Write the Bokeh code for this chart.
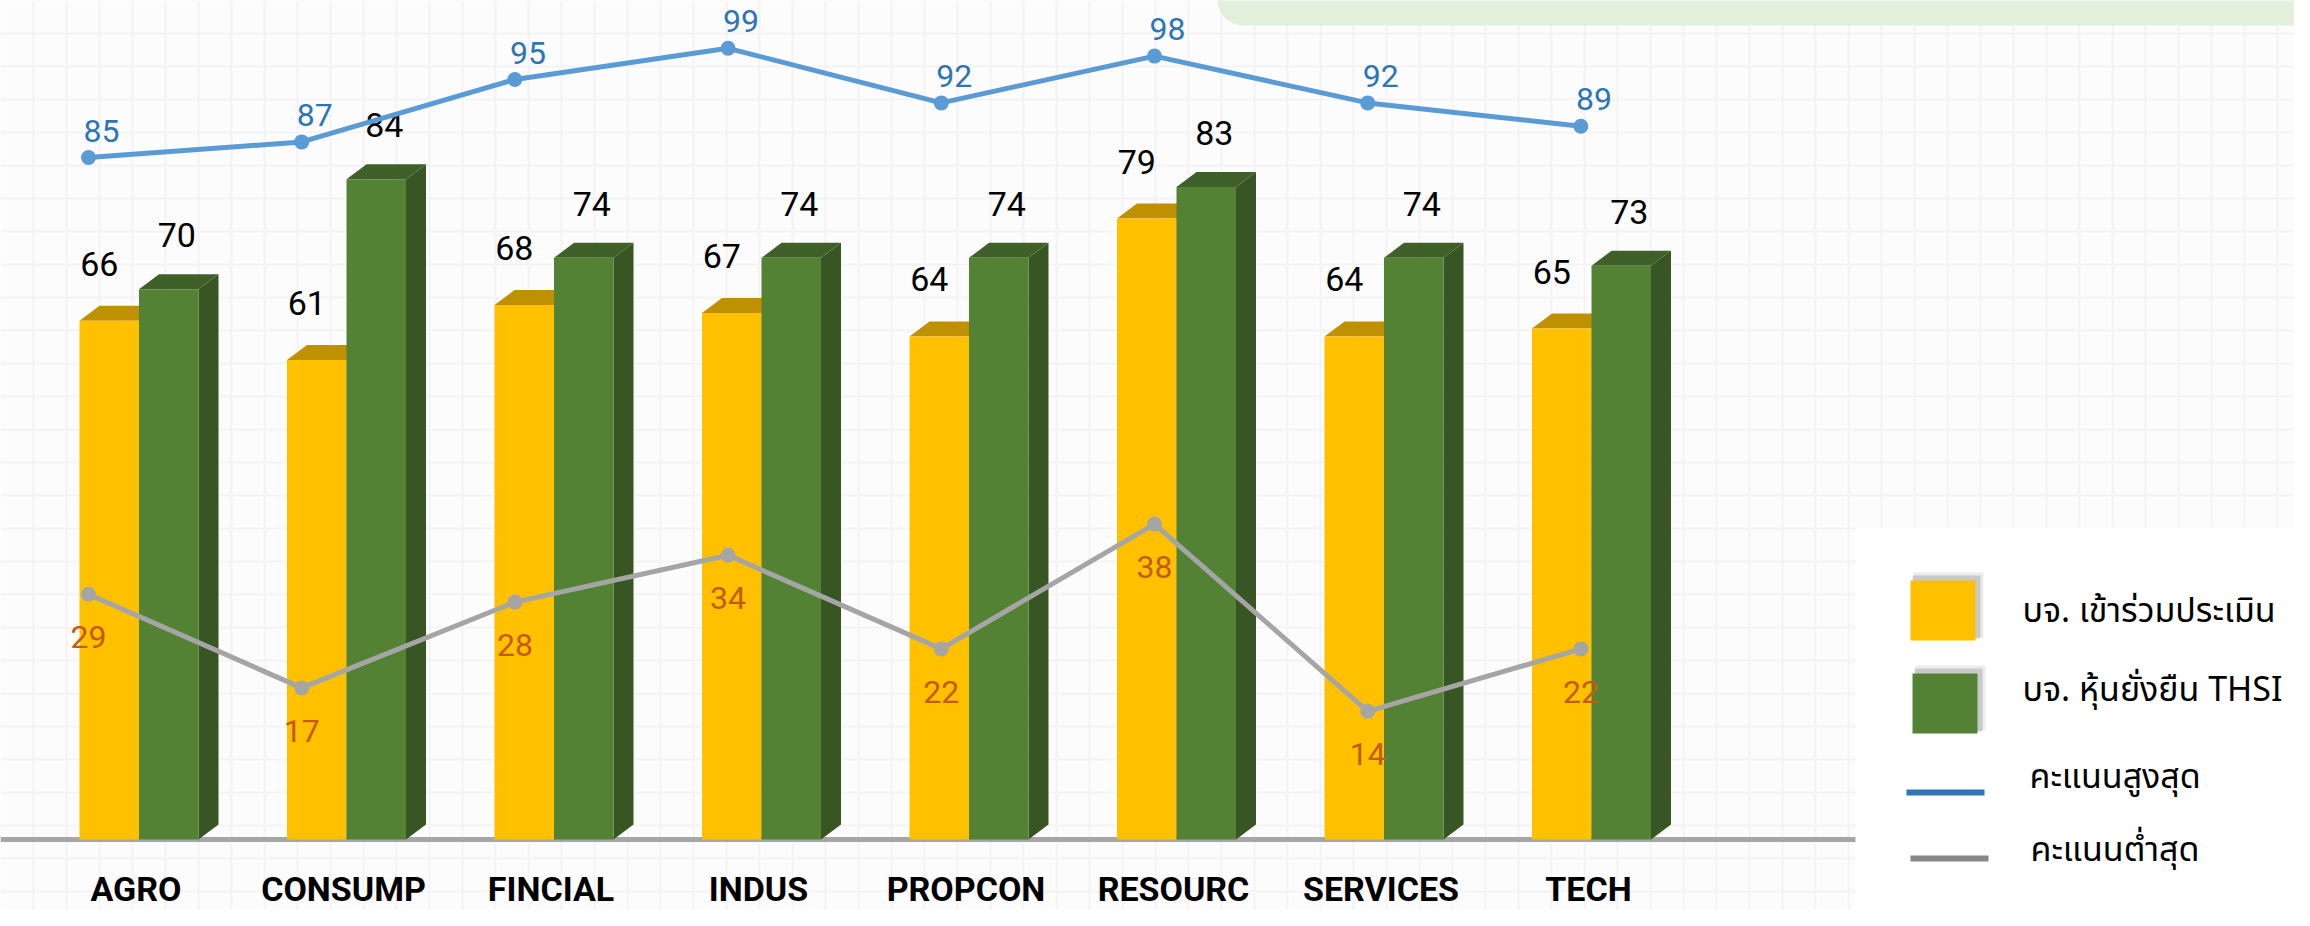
import numpy as np
from bokeh.plotting import figure
from bokeh.models import Range1d, Grid, SingleIntervalTicker, BoxAnnotation
from bokeh.core.properties import value
from bokeh.embed import file_html
from bokeh.resources import INLINE

# ---------------- data ----------------
categories = ["AGRO", "CONSUMP", "FINCIAL", "INDUS", "PROPCON", "RESOURC", "SERVICES", "TECH"]
participants = [66, 61, 68, 67, 64, 79, 64, 65]      # บจ. เข้าร่วมประเมิน
thsi = [70, 84, 74, 74, 74, 83, 74, 73]              # บจ. หุ้นยั่งยืน THSI
max_score = [85, 87, 95, 99, 92, 98, 92, 89]         # คะแนนสูงสุด
min_score = [29, 17, 28, 34, 22, 38, 14, 22]         # คะแนนต่ำสุด
legend_labels = ["บจ. เข้าร่วมประเมิน", "บจ. หุ้นยั่งยืน THSI", "คะแนนสูงสุด", "คะแนนต่ำสุด"]

# ---------------- layout / style ----------------
W, H = 2294, 910
M = 8  # page margin
BAR_X0, BAR_DX, BAR_Y0, BAR_DY = 146.5, 207.5, 847.0, 7.86
LINE_X0, LINE_DX, LINE_Y0, LINE_DY = 96.0, 213.2, 828.0, 7.8

YEL, YEL_TOP = "#FFC000", "#BF9000"
GRN, GRN_TOP, GRN_SIDE = "#548235", "#3F6129", "#375623"
BLUE, BLUE_TXT = "#5B9BD5", "#2E75B6"
GRAY, GRAY_TXT = "#A5A5A5", "#C55A11"
NUM_FONT = value("Roboto")
THAI_FONT = value("Noto Sans Thai")

p = figure(width=W, height=H,
           x_range=Range1d((M - BAR_X0) / BAR_DX, (M + W - BAR_X0) / BAR_DX),
           y_range=Range1d((BAR_Y0 - (M + H)) / BAR_DY, (BAR_Y0 - M) / BAR_DY),
           output_backend="svg", toolbar_location=None, min_border=0,
           x_axis_location=None, y_axis_location=None,
           background_fill_color="#FCFCFC", border_fill_color="#FCFCFC")
p.outline_line_color = None
p.grid.visible = False

p.extra_x_ranges = {
    "line": Range1d((M - LINE_X0) / LINE_DX, (M + W - LINE_X0) / LINE_DX),
    "px": Range1d(0, W),
}
p.extra_y_ranges = {
    "line": Range1d((LINE_Y0 - (M + H)) / LINE_DY, (LINE_Y0 - M) / LINE_DY),
    "py": Range1d(H, 0),
}

# faint graph-paper background
for dim in (0, 1):
    g = Grid(dimension=dim, ticker=SingleIntervalTicker(interval=33),
             grid_line_color="#F3F3F3", grid_line_width=2, level="underlay")
    if dim == 0:
        g.x_range_name = "px"
    else:
        g.y_range_name = "py"
    p.add_layout(g)

# top rounded green box (title area, mostly cut off)
p.add_layout(BoxAnnotation(left=1225 - M, right=W + 60, top=-80, bottom=33 - M,
                           x_range_name="px", y_range_name="py",
                           fill_color="#E2EFDA", fill_alpha=1.0, line_color=None,
                           border_radius=26, level="underlay"))

# baseline
p.hspan(y=[0], line_color="#A6A6A6", line_width=5)

# ---------------- bars with pseudo-3D depth ----------------
idx = np.arange(len(categories), dtype=float)
bw = 59.5 / BAR_DX
ddx = 20.0 / BAR_DX
ddy = 15.0 / BAR_DY


def bar3d(left, vals, front, top, side):
    vals = np.asarray(vals, dtype=float)
    right = left + bw
    side_xs = [[r, r + ddx, r + ddx, r] for r in right]
    side_ys = [[0, ddy, v + ddy, v] for v in vals]
    top_xs = [[l, l + ddx, r + ddx, r] for l, r in zip(left, right)]
    top_ys = [[v, v + ddy, v + ddy, v] for v in vals]
    p.patches(side_xs, side_ys, fill_color=side, line_color=None)
    p.patches(top_xs, top_ys, fill_color=top, line_color=None)
    p.quad(left=left, right=right, bottom=0, top=vals, fill_color=front, line_color=None)


bar3d(idx - bw, participants, YEL, YEL_TOP, "#A67C00")
bar3d(idx, thsi, GRN, GRN_TOP, GRN_SIDE)

# bar value labels
p.text(x=idx - bw / 2, y=participants, text=[str(v) for v in participants],
       x_offset=-10, y_offset=-57, text_align="center", text_baseline="middle",
       text_font=NUM_FONT, text_font_size="34px", text_color="black")
p.text(x=idx + bw / 2, y=thsi, text=[str(v) for v in thsi],
       x_offset=8, y_offset=-54, text_align="center", text_baseline="middle",
       text_font=NUM_FONT, text_font_size="34px", text_color="black")

# category labels
p.text(x=idx, y=[0] * len(categories), text=categories,
       x_offset=-3, y_offset=49, text_align="center", text_baseline="middle",
       text_font=NUM_FONT, text_font_style="bold", text_font_size="34px",
       text_color="black")

# ---------------- lines ----------------
for vals, col, tcol, yoff, xoff in ((max_score, BLUE, BLUE_TXT, -27, 13),
                                    (min_score, GRAY, GRAY_TXT, 43, 0)):
    p.line(x=idx, y=vals, x_range_name="line", y_range_name="line",
           line_color=col, line_width=5)
    p.scatter(x=idx, y=vals, x_range_name="line", y_range_name="line",
              size=15, fill_color=col, line_color=None)
    p.text(x=idx, y=vals, text=[str(v) for v in vals],
           x_range_name="line", y_range_name="line",
           x_offset=xoff, y_offset=yoff, text_align="center", text_baseline="middle",
           text_font=NUM_FONT, text_font_size="32px", text_color=tcol)

# ---------------- legend (custom) ----------------
p.add_layout(BoxAnnotation(left=1863 - M, right=W + 60, top=535 - M, bottom=H + 60,
                           x_range_name="px", y_range_name="py",
                           fill_color="white", fill_alpha=1.0, line_color=None))

sq_left = [1918 - M, 1920 - M]
sq_top = [588 - M, 681 - M]
sq_size = (65, 60)
for l, t, col in zip(sq_left, sq_top, (YEL, GRN)):
    p.quad(left=[l + 3], right=[l + sq_size[0] + 8], top=[t - 8], bottom=[t + sq_size[1] - 3],
           x_range_name="px", y_range_name="py", fill_color="#808080", fill_alpha=0.15,
           line_color=None, level="overlay")
    p.quad(left=[l + 2], right=[l + sq_size[0] + 5], top=[t - 5], bottom=[t + sq_size[1] - 2],
           x_range_name="px", y_range_name="py", fill_color="#707070", fill_alpha=0.28,
           line_color=None, level="overlay")
    p.quad(left=[l], right=[l + sq_size[0]], top=[t], bottom=[t + sq_size[1]],
           x_range_name="px", y_range_name="py", fill_color=col, line_color=None,
           level="overlay")

for x0, x1, y, col in ((1914 - M, 1992 - M, 800 - M, "#2E75B6"),
                       (1918 - M, 1996 - M, 866 - M, "#878787")):
    p.segment(x0=[x0], x1=[x1], y0=[y], y1=[y], x_range_name="px", y_range_name="py",
              line_color=col, line_width=6, level="overlay")

leg_x = [2030 - M, 2030 - M, 2037 - M, 2038 - M]
leg_y = [619 - M, 698 - M, 785 - M, 858 - M]
p.text(x=leg_x, y=leg_y, text=legend_labels, x_range_name="px", y_range_name="py",
       text_align="left", text_baseline="middle", text_font=THAI_FONT,
       text_font_size="34px", text_color="black", level="overlay")

open("out.html", "w").write(file_html(p, INLINE))
